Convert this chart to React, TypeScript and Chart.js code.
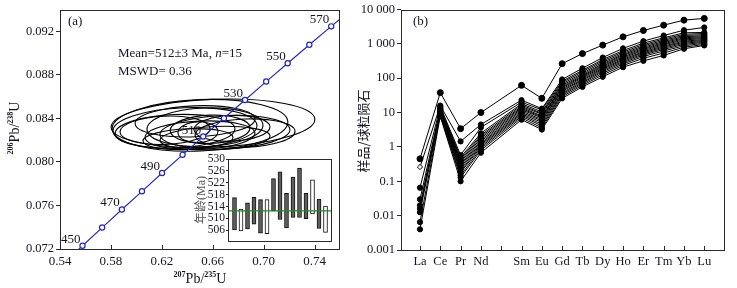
import React, { useEffect, useRef } from 'react';
import { Chart, registerables } from 'chart.js';

Chart.register(...registerables);

const SERIF = "'Liberation Serif', 'Times New Roman', serif";
const CJK = "'Noto Sans CJK SC', sans-serif";
const INK = '#15151f';
const FRAME = '#2a2a2a';
const BLUE = '#2424c4';
const GREEN = '#1f8a1f';

// ---------------- Panel (a): concordia ----------------
const CONCORDIA_AGES = [440, 450, 460, 470, 480, 490, 500, 510, 520, 530, 540, 550, 560, 570, 580];
const CONCORDIA_X = [0.5424, 0.5577, 0.5731, 0.5886, 0.6044, 0.6202, 0.6363, 0.6525, 0.6688, 0.6854, 0.702, 0.7189, 0.7359, 0.7531, 0.7704];
const CONCORDIA_Y = [0.07064, 0.0723, 0.07397, 0.07563, 0.0773, 0.07898, 0.08065, 0.08233, 0.08401, 0.08569, 0.08738, 0.08906, 0.09076, 0.09245, 0.09414];
const LABELED_AGES = [450, 470, 490, 510, 530, 550, 570];

const ELLIPSE_CX = [0.6602, 0.65, 0.6382, 0.6461, 0.6539, 0.6304, 0.6696, 0.65, 0.6579, 0.6484, 0.6751, 0.6225, 0.6854, 0.6406, 0.6618];
const ELLIPSE_CY = [0.08355, 0.08336, 0.08309, 0.08373, 0.08318, 0.08282, 0.08273, 0.08245, 0.083, 0.08273, 0.08309, 0.08291, 0.08264, 0.08209, 0.08218];
const ELLIPSE_RX = [0.0801, 0.0691, 0.0566, 0.0471, 0.0456, 0.0471, 0.0511, 0.0432, 0.0314, 0.0157, 0.0299, 0.0354, 0.0393, 0.0354, 0.0432];
const ELLIPSE_RY = [0.0022, 0.00236, 0.00188, 0.00142, 0.00177, 0.00153, 0.00153, 0.0013, 0.0013, 0.00095, 0.00118, 0.0013, 0.0013, 0.00095, 0.00107];
const ELLIPSE_TILT = -0.04;

const A_X_TICKS = [0.54, 0.58, 0.62, 0.66, 0.7, 0.74];
const A_X_LABELS = ['0.54', '0.58', '0.62', '0.66', '0.70', '0.74'];
const A_Y_TICKS = [0.072, 0.076, 0.08, 0.084, 0.088, 0.092];
const A_Y_LABELS = ['0.072', '0.076', '0.080', '0.084', '0.088', '0.092'];

// inset: spot ages (slots 0 and 16 are empty margins)
const INSET_SLOTS = ['', '1', '2', '3', '4', '5', '6', '7', '8', '9', '10', '11', '12', '13', '14', '15', ''];
const AGE_LOW = [506.1, 505.8, 506.4, 508.0, 505.0, 504.8, 512.5, 509.6, 506.8, 510.3, 510.3, 509.9, 511.5, 506.6, 505.3];
const AGE_HIGH = [517.0, 513.1, 515.2, 517.1, 516.3, 516.3, 523.4, 525.7, 518.4, 523.9, 526.9, 518.4, 523.0, 516.5, 514.1];
const SPOT_OPEN = [false, true, false, false, false, true, false, false, false, false, false, false, true, false, true];
const MEAN_AGE = 512.5;
const INSET_Y_TICKS = [506, 510, 514, 518, 522, 526, 530];

// ---------------- Panel (b): REE ----------------
const REE_LABELS = ['La', 'Ce', 'Pr', 'Nd', '', 'Sm', 'Eu', 'Gd', 'Tb', 'Dy', 'Ho', 'Er', 'Tm', 'Yb', 'Lu'];
const REE_POS = [0, 1, 2, 3, 5, 6, 7, 8, 9, 10, 11, 12, 13, 14];
const B_Y_TICKS = [0.001, 0.01, 0.1, 1, 10, 100, 1000, 10000];
const B_Y_LABELS = ['0.001', '0.01', '0.1', '1', '10', '100', '1 000', '10 000'];

const S01 = [0.45, 38, 3.4, 10, 62, 26, 265, 520, 920, 1600, 2450, 3500, 4900, 5500];
const S02 = [0.26, 16, 1.45, 4.5, 23, 13, 92, 195, 400, 740, 1200, 1750, 2500, 3000];
const S03 = [0.065, 15, 0.58, 3.7, 20, 12, 82, 170, 350, 640, 1050, 1500, 2100, 2150];
const S04 = [null, 14, 0.5, 2.5, 18, 10.5, 75, 155, 320, 580, 950, 1380, 1900, 2000];
const S05 = [0.03, 13, 0.45, 2.2, 16.5, 9.5, 68, 140, 290, 530, 870, 1270, 1750, 1850];
const S06 = [null, 12.5, 0.4, 2.0, 15, 9, 62, 128, 265, 490, 800, 1170, 1620, 1720];
const S07 = [0.02, 12, 0.36, 1.8, 14, 8, 57, 118, 245, 455, 740, 1090, 1500, 1620];
const S08 = [null, 11.5, 0.32, 1.6, 13, 7.5, 53, 110, 228, 420, 690, 1010, 1400, 1520];
const S09 = [0.016, 11, 0.29, 1.45, 12, 7, 49, 102, 212, 390, 640, 940, 1300, 1430];
const S10 = [null, 10.5, 0.26, 1.3, 11, 6.3, 45, 94, 196, 360, 590, 870, 1200, 1340];
const S11 = [0.0126, 10, 0.23, 1.2, 10, 5.8, 42, 87, 182, 335, 550, 810, 1120, 1260];
const S12 = [null, 9.5, 0.2, 1.1, 9.2, 5.2, 38, 80, 168, 310, 510, 750, 1040, 1180];
const S13 = [0.0065, 9, 0.18, 1.0, 8.5, 4.6, 35, 74, 155, 285, 470, 690, 960, 1110];
const S14 = [null, 8.5, 0.15, 0.9, 7.8, 4.1, 32, 68, 140, 260, 430, 620, 880, 1040];
const S15 = [0.004, 8, 0.13, 0.8, 7, 3.6, 29, 62, 125, 235, 380, 540, 800, 960];
const S16 = [null, 7.7, 0.1, 0.68, 6.2, 3.2, 26, 56, 110, 210, 320, 460, 720, 900];
const SAMPLES = [S01, S02, S03, S04, S05, S06, S07, S08, S09, S10, S11, S12, S13, S14, S15, S16];
const OPEN_SAMPLE = 1; // sample whose La point is an open diamond

// ---------------- helpers ----------------
function drawSup(ctx: any, parts: [string, boolean][], x: number, y: number, size: number) {
  const big = `${size}px ${SERIF}`;
  const small = `bold ${Math.round(size * 0.56)}px ${SERIF}`;
  let total = 0;
  const widths = parts.map(([t, sup]) => {
    ctx.font = sup ? small : big;
    const w = ctx.measureText(t).width;
    total += w;
    return w;
  });
  let cx = x - total / 2;
  ctx.textAlign = 'left';
  ctx.textBaseline = 'alphabetic';
  parts.forEach(([t, sup], i) => {
    ctx.font = sup ? small : big;
    ctx.fillText(t, cx, sup ? y - size * 0.42 : y);
    cx += widths[i];
  });
}

const framePlugin = {
  id: 'frame',
  afterDraw(chart: any) {
    const { ctx, chartArea: a } = chart;
    ctx.save();
    ctx.strokeStyle = FRAME;
    ctx.lineWidth = 1;
    ctx.strokeRect(Math.round(a.left) + 0.5, Math.round(a.top) + 0.5, Math.round(a.right - a.left) - 1, Math.round(a.bottom - a.top) - 1);
    ctx.restore();
  },
};

const innerXTicksPlugin = {
  id: 'innerXTicks',
  afterDraw(chart: any, _args: any, opts: any) {
    const { ctx, chartArea: a, scales } = chart;
    const x = scales.x;
    ctx.save();
    ctx.strokeStyle = FRAME;
    ctx.lineWidth = 1;
    x.ticks.forEach((t: any) => {
      const px = Math.round(x.getPixelForValue(t.value)) + 0.5;
      ctx.beginPath();
      ctx.moveTo(px, a.bottom);
      ctx.lineTo(px, a.bottom - (opts.length || 4));
      ctx.stroke();
    });
    ctx.restore();
  },
};

const ellipsePlugin = {
  id: 'ellipses',
  beforeDatasetsDraw(chart: any) {
    const { ctx, chartArea: a, scales } = chart;
    const { x, y } = scales;
    ctx.save();
    ctx.beginPath();
    ctx.rect(a.left, a.top, a.right - a.left, a.bottom - a.top);
    ctx.clip();
    ctx.strokeStyle = '#000';
    ctx.lineWidth = 1.1;
    ELLIPSE_CX.forEach((cx, i) => {
      const px = x.getPixelForValue(cx);
      const py = y.getPixelForValue(ELLIPSE_CY[i]);
      const rx = Math.abs(x.getPixelForValue(cx + ELLIPSE_RX[i]) - px);
      const ry = Math.abs(y.getPixelForValue(ELLIPSE_CY[i] + ELLIPSE_RY[i]) - py);
      ctx.beginPath();
      ctx.ellipse(px, py, rx, ry, ELLIPSE_TILT, 0, Math.PI * 2);
      ctx.stroke();
    });
    ctx.restore();
  },
};

const panelATextPlugin = {
  id: 'panelAText',
  afterDraw(chart: any) {
    const { ctx, scales } = chart;
    const { x, y } = scales;
    ctx.save();
    ctx.fillStyle = INK;
    ctx.font = `13px ${SERIF}`;
    ctx.textAlign = 'right';
    ctx.textBaseline = 'alphabetic';
    LABELED_AGES.forEach((age) => {
      const i = CONCORDIA_AGES.indexOf(age);
      const px = x.getPixelForValue(CONCORDIA_X[i]);
      const py = y.getPixelForValue(CONCORDIA_Y[i]);
      ctx.fillText(String(age), px - 2, py - 3);
    });
    ctx.textAlign = 'left';
    ctx.textBaseline = 'middle';
    ctx.font = `13px ${SERIF}`;
    ctx.fillText('(a)', 68, 22);
    let tx = 118;
    const seg = (t: string, italic = false) => {
      ctx.font = `${italic ? 'italic ' : ''}13px ${SERIF}`;
      ctx.fillText(t, tx, 54);
      tx += ctx.measureText(t).width;
    };
    seg('Mean=512±3 Ma, ');
    seg('n', true);
    seg('=15');
    ctx.font = `13px ${SERIF}`;
    ctx.fillText('MSWD= 0.36', 118, 72);
    drawSup(ctx, [['207', true], ['Pb/', false], ['235', true], ['U', false]], 200, 283, 14);
    ctx.translate(19, 128);
    ctx.rotate(-Math.PI / 2);
    drawSup(ctx, [['206', true], ['Pb/', false], ['238', true], ['U', false]], 0, 0, 14);
    ctx.restore();
  },
};

const insetTextPlugin = {
  id: 'insetText',
  afterDraw(chart: any) {
    const { ctx } = chart;
    ctx.save();
    ctx.fillStyle = '#555';
    ctx.font = `12px ${SERIF}, ${CJK}`;
    ctx.textAlign = 'center';
    ctx.textBaseline = 'middle';
    ctx.translate(12, 50);
    ctx.rotate(-Math.PI / 2);
    ctx.fillText('年龄(Ma)', 0, 0);
    ctx.restore();
  },
};

const panelBTextPlugin = {
  id: 'panelBText',
  afterDraw(chart: any) {
    const { ctx } = chart;
    ctx.save();
    ctx.fillStyle = INK;
    ctx.font = `13px ${SERIF}`;
    ctx.textAlign = 'left';
    ctx.textBaseline = 'middle';
    ctx.fillText('(b)', 63, 22);
    ctx.font = `13px ${CJK}`;
    ctx.textAlign = 'center';
    ctx.translate(13, 131);
    ctx.rotate(-Math.PI / 2);
    ctx.fillText('样品/球粒陨石', 0, 0);
    ctx.restore();
  },
};

const noPlugins = { legend: { display: false }, tooltip: { enabled: false } };

export default function App() {
  const aRef = useRef<HTMLCanvasElement>(null);
  const insetRef = useRef<HTMLCanvasElement>(null);
  const bRef = useRef<HTMLCanvasElement>(null);

  useEffect(() => {
    const charts: Chart[] = [];

    // ---- panel (a)
    const concData = CONCORDIA_AGES.map((_, i) => ({ x: CONCORDIA_X[i], y: CONCORDIA_Y[i] }));
    const concRadius = CONCORDIA_AGES.map((a) => (a >= 450 && a <= 570 ? 2.6 : 0));
    charts.push(
      new Chart(aRef.current as HTMLCanvasElement, {
        type: 'line',
        data: {
          datasets: [
            {
              data: concData,
              borderColor: BLUE,
              borderWidth: 1.1,
              pointRadius: concRadius,
              pointBorderColor: BLUE,
              pointBackgroundColor: '#fff',
              pointBorderWidth: 1.2,
              tension: 0,
            },
          ],
        },
        options: {
          responsive: false,
          animation: false,
          devicePixelRatio: 1,
          layout: { padding: { top: 7, right: 10, left: 0, bottom: 0 } },
          plugins: { ...noPlugins, innerXTicks: { length: 4 } } as any,
          scales: {
            x: {
              type: 'linear',
              min: 0.54,
              max: 0.76,
              afterFit: (s: any) => { s.height = 39; },
              afterBuildTicks: (s: any) => { s.ticks = A_X_TICKS.map((v) => ({ value: v })); },
              ticks: {
                callback: (_v: any, i: number) => A_X_LABELS[i],
                font: { family: SERIF, size: 13 },
                color: INK,
                padding: 5,
                autoSkip: false,
                maxRotation: 0,
              },
              grid: { drawOnChartArea: false, drawTicks: false },
              border: { display: false },
            },
            y: {
              type: 'linear',
              min: 0.072,
              max: 0.094,
              afterFit: (s: any) => { s.width = 60; },
              afterBuildTicks: (s: any) => { s.ticks = A_Y_TICKS.map((v) => ({ value: v })); },
              ticks: {
                callback: (_v: any, i: number) => A_Y_LABELS[i],
                font: { family: SERIF, size: 12.5 },
                color: INK,
                padding: 2,
                autoSkip: false,
              },
              grid: { drawOnChartArea: false, drawTicks: true, tickLength: 4, color: FRAME },
              border: { display: false },
            },
          },
        } as any,
        plugins: [ellipsePlugin, framePlugin, innerXTicksPlugin, panelATextPlugin],
      })
    );

    // ---- inset
    const barData = INSET_SLOTS.map((_, i) => (i >= 1 && i <= AGE_LOW.length ? [AGE_LOW[i - 1], AGE_HIGH[i - 1]] : null));
    const barFill = INSET_SLOTS.map((_, i) => (i >= 1 && i <= SPOT_OPEN.length && SPOT_OPEN[i - 1] ? '#ffffff' : '#5e5e5e'));
    charts.push(
      new Chart(insetRef.current as HTMLCanvasElement, {
        type: 'bar',
        data: {
          labels: INSET_SLOTS,
          datasets: [
            {
              type: 'line',
              data: INSET_SLOTS.map(() => MEAN_AGE),
              borderColor: GREEN,
              borderWidth: 1.3,
              pointRadius: 0,
            } as any,
            {
              type: 'bar',
              data: barData,
              backgroundColor: barFill,
              borderColor: '#111',
              borderWidth: 1,
              borderSkipped: false,
              barThickness: 4,
              grouped: false,
            } as any,
          ],
        },
        options: {
          responsive: false,
          animation: false,
          devicePixelRatio: 1,
          layout: { padding: { top: 9, right: 3, left: 0, bottom: 0 } },
          plugins: noPlugins,
          scales: {
            x: {
              type: 'category',
              offset: false,
              afterFit: (s: any) => { s.height = 5; },
              ticks: { display: false },
              grid: { display: false, drawTicks: false, offset: false },
              border: { display: false },
            },
            y: {
              type: 'linear',
              min: 502,
              max: 530,
              afterFit: (s: any) => { s.width = 38; },
              afterBuildTicks: (s: any) => { s.ticks = INSET_Y_TICKS.map((v) => ({ value: v })); },
              ticks: {
                callback: (v: any) => String(v),
                font: { family: SERIF, size: 11.5 },
                color: INK,
                padding: 1,
                autoSkip: false,
              },
              grid: { drawOnChartArea: false, drawTicks: true, tickLength: 2, color: FRAME },
              border: { display: false },
            },
          },
        } as any,
        plugins: [framePlugin, insetTextPlugin],
      })
    );

    // ---- panel (b)
    const bDatasets = SAMPLES.map((vals, k) => ({
      data: REE_POS.map((p, j) => ({ x: p, y: vals[j] })).filter((d) => d.y !== null),
      borderColor: '#000',
      borderWidth: 1,
      pointRadius: k === 0 ? 3 : 2.6,
      pointBorderColor: '#000',
      pointBorderWidth: 1,
      pointStyle: (c: any) => (k === OPEN_SAMPLE && c.dataIndex === 0 ? 'rectRot' : 'circle'),
      pointBackgroundColor: (c: any) => (k === OPEN_SAMPLE && c.dataIndex === 0 ? '#fff' : '#000'),
      tension: 0,
    }));
    charts.push(
      new Chart(bRef.current as HTMLCanvasElement, {
        type: 'line',
        data: { datasets: bDatasets as any },
        options: {
          responsive: false,
          animation: false,
          devicePixelRatio: 1,
          layout: { padding: { top: 7, right: 12, left: 0, bottom: 0 } },
          plugins: { ...noPlugins, innerXTicks: { length: 4 } } as any,
          scales: {
            x: {
              type: 'linear',
              min: -0.935,
              max: 15.02,
              afterFit: (s: any) => { s.height = 38; },
              afterBuildTicks: (s: any) => { s.ticks = REE_LABELS.map((_, i) => ({ value: i })); },
              ticks: {
                callback: (_v: any, i: number) => REE_LABELS[i],
                font: { family: SERIF, size: 12.5 },
                color: INK,
                padding: 4,
                autoSkip: false,
                maxRotation: 0,
              },
              grid: { drawOnChartArea: false, drawTicks: false },
              border: { display: false },
            },
            y: {
              type: 'logarithmic',
              min: 0.001,
              max: 10000,
              afterFit: (s: any) => { s.width = 51; },
              afterBuildTicks: (s: any) => { s.ticks = B_Y_TICKS.map((v) => ({ value: v })); },
              ticks: {
                callback: (_v: any, i: number) => B_Y_LABELS[i],
                font: { family: SERIF, size: 12.5 },
                color: INK,
                padding: 2,
                autoSkip: false,
              },
              grid: { drawOnChartArea: false, drawTicks: true, tickLength: 4, color: FRAME },
              border: { display: false },
            },
          },
        } as any,
        plugins: [framePlugin, innerXTicksPlugin, panelBTextPlugin],
      })
    );

    return () => charts.forEach((c) => c.destroy());
  }, []);

  return (
    <div style={{ position: 'absolute', left: 0, top: 0, width: 737, height: 288, background: '#fff' }}>
      <canvas ref={aRef} width={350} height={288} style={{ position: 'absolute', left: 0, top: 0, width: 350, height: 288 }} />
      <canvas ref={bRef} width={387} height={288} style={{ position: 'absolute', left: 350, top: 0, width: 387, height: 288 }} />
      <canvas ref={insetRef} width={145} height={100} style={{ position: 'absolute', left: 190, top: 150, width: 145, height: 100 }} />
    </div>
  );
}
